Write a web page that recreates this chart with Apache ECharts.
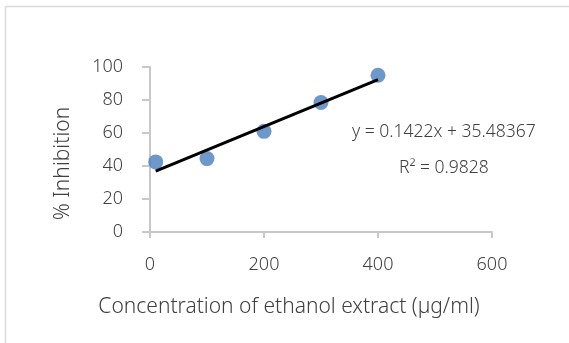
<!DOCTYPE html>
<html>
<head>
<meta charset="utf-8">
<script src="https://cdn.jsdelivr.net/npm/echarts@6/dist/echarts.min.js"></script>
<style>
  html, body { margin: 0; padding: 0; background: #fff; }
  #chart { width: 569px; height: 343px; }
</style>
</head>
<body>
<div id="chart"></div>
<script>
// data
var concentration = [10, 100, 200, 300, 400];
var inhibition = [42.5, 44.5, 61, 78.5, 95];
// trendline end points (y = 0.1422x + 35.48367)
var trendX = [10, 400];
var trendY = [36.9, 92.4];
var equationText = 'y = 0.1422x + 35.48367';
var r2Text = 'R² = 0.9828';

var font = '"Noto Sans", sans-serif';
var chart = echarts.init(document.getElementById('chart'));

var option = {
  animation: false,
  backgroundColor: '#fff',
  grid: { left: 150, right: 77, top: 67, bottom: 111 },
  graphic: [
    {
      type: 'rect',
      silent: true,
      shape: { x: 5.5, y: 6.5, width: 620, height: 400 },
      style: { fill: 'none', stroke: '#d9d9d9', lineWidth: 1.5 }
    },
    {
      type: 'text',
      left: 352, top: 123,
      style: { text: equationText, fill: '#404040', font: '300 17.5px ' + font }
    },
    {
      type: 'text',
      left: 399, top: 159,
      style: { text: r2Text, fill: '#404040', font: '300 17.5px ' + font }
    }
  ],
  xAxis: {
    type: 'value',
    min: 0, max: 600, interval: 200,
    name: 'Concentration of ethanol extract (µg/ml)',
    nameLocation: 'middle',
    nameGap: 65,
    nameTextStyle: { color: '#404040', fontSize: 21, fontWeight: 300, fontFamily: font, padding: [0, 64, 0, 0] },
    axisLine: { show: true, lineStyle: { color: '#c8c8c8', width: 2 } },
    axisTick: { show: true, length: 6, lineStyle: { color: '#c8c8c8', width: 2 } },
    axisLabel: { margin: 24, color: '#404040', fontSize: 18, fontWeight: 300, fontFamily: font },
    splitLine: { show: false }
  },
  yAxis: {
    type: 'value',
    min: 0, max: 100, interval: 20,
    name: '% Inhibition',
    nameLocation: 'middle',
    nameGap: 76,
    nameTextStyle: { color: '#404040', fontSize: 21, fontWeight: 300, fontFamily: font, padding: [0, 28, 0, 0] },
    axisLine: { show: true, lineStyle: { color: '#c8c8c8', width: 2 } },
    axisTick: { show: true, length: 8, lineStyle: { color: '#c8c8c8', width: 2 } },
    axisLabel: { margin: 27, color: '#404040', fontSize: 18, fontWeight: 300, fontFamily: font },
    splitLine: { show: false }
  },
  series: [
    {
      type: 'line',
      data: trendX.map(function (x, i) { return [x, trendY[i]]; }),
      symbol: 'none',
      lineStyle: { color: '#000', width: 3 },
      z: 3
    },
    {
      type: 'scatter',
      data: concentration.map(function (x, i) { return [x, inhibition[i]]; }),
      symbolSize: 15,
      itemStyle: { color: '#4a7ebb' },
      z: 2
    }
  ]
};

chart.setOption(option);
</script>
</body>
</html>
